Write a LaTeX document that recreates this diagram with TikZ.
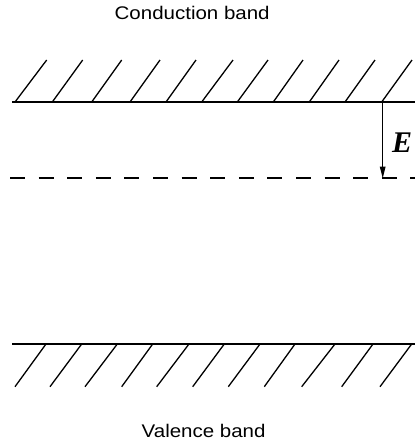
\documentclass[tikz,border=0pt]{standalone}
\usepackage{fontspec}
\usetikzlibrary{arrows.meta}
\newfontfamily\labfont[FakeStretch=1.12]{Liberation Sans}
\newfontfamily\efont{Liberation Serif}
\begin{document}
\begin{tikzpicture}[x=1pt,y=-1pt,
  band/.style={line width=1.5pt},
  hatch/.style={line width=1.3pt},
  fermi/.style={line width=1.5pt,dash pattern=on 15pt off 13.6pt},
  lab/.style={inner sep=0pt,font=\labfont\fontsize{18.3}{20}\selectfont},
  elab/.style={inner sep=0pt,font=\efont\bfseries\itshape\fontsize{30}{34}\selectfont}]
\useasboundingbox (0,0) rectangle (416,445);
% band edges
\coordinate (cL) at (12,102); \coordinate (cR) at (415,102);
\coordinate (vL) at (12,344); \coordinate (vR) at (415,344);
\coordinate (fL) at (10,178); \coordinate (fR) at (415,178);
\draw[band] (cL) -- (cR);
\draw[band] (vL) -- (vR);
\draw[fermi] (fL) -- (fR);
% top hatches
\foreach \b/\t [count=\i] in {15/46.7,52.3/82.7,91.7/121.7,130/160,166/196,201.7/233,237.3/268,273.3/303,309.3/339,345/375,381.7/412}{
  \coordinate (tb\i) at (\b,102); \coordinate (tt\i) at (\t,60);
  \draw[hatch] (tb\i) -- (tt\i);
}
% bottom hatches
\foreach \t/\b [count=\i] in {46/15,81.7/50,117.3/85,152.7/121.7,189/156.7,224.3/192.7,260/228.3,295/264.3,335/301.7,373/341.7,411.7/380}{
  \coordinate (bt\i) at (\t,344); \coordinate (bb\i) at (\b,386.7);
  \draw[hatch] (bt\i) -- (bb\i);
}
% energy arrow
\coordinate (aS) at (382.7,102); \coordinate (aE) at (382.7,178.5);
\draw[line width=1.4pt,-{Triangle[length=12pt,width=5.5pt]}] (aS) -- (aE);
\node[elab,anchor=base west] (E) at (392,152) {E};
% labels
\node[lab,anchor=base west] (cb) at (114.5,19.3) {Conduction band};
\node[lab,anchor=base west] (vb) at (141.5,437) {Valence band};
\end{tikzpicture}
\end{document}
